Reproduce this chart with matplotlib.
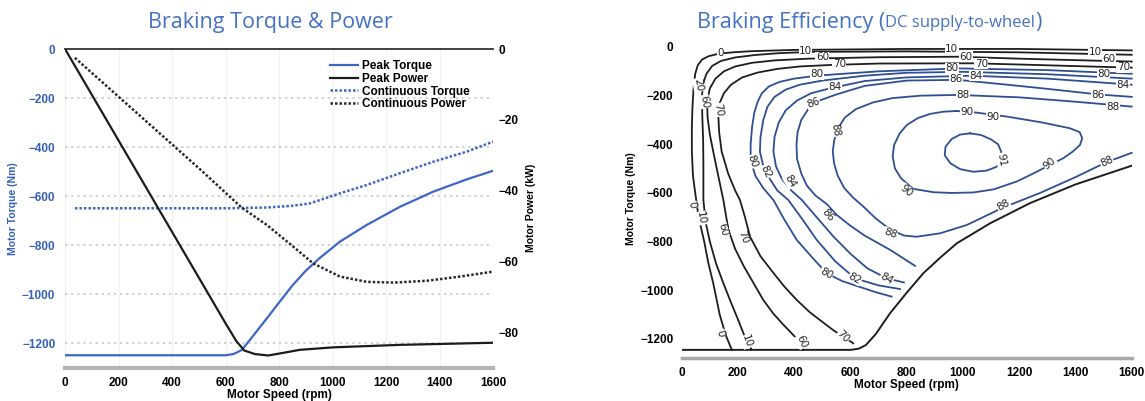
"""
Braking torque/power envelope and braking efficiency map for the motor.
"""

import matplotlib.pyplot as plt

plt.rcParams['font.family'] = ['Liberation Sans', 'DejaVu Sans']

# ---------------- left panel: torque & power envelopes ----------------
peak_torque_speed = [0, 600, 630, 660, 700, 754, 800, 850, 900, 950, 1028, 1128, 1252, 1377, 1502, 1600]
peak_torque = [-1250, -1250, -1245, -1229, -1175, -1100, -1035, -965, -905, -855, -786, -718, -644, -582, -532, -497]

peak_power_speed = [0, 600, 640, 670, 710, 760, 820, 878, 1003, 1252, 1600]
peak_power = [0, -77.5, -82.5, -85.2, -86.2, -86.6, -85.8, -85.0, -84.3, -83.6, -83.0]

cont_torque_speed = [37, 600, 754, 850, 916, 1028, 1128, 1252, 1377, 1502, 1600]
cont_torque = [-650, -650, -647, -640, -630, -589, -555, -507, -460, -419, -378]

cont_power_speed = [37, 505, 660, 754, 854, 928, 1028, 1128, 1228, 1352, 1477, 1600]
cont_power = [-2.5, -34.0, -44.8, -49.7, -55.9, -60.6, -64.3, -65.8, -66.0, -65.5, -64.3, -62.9]

torque_ticks = [0, -200, -400, -600, -800, -1000, -1200]
power_ticks = [0, -20, -40, -60, -80]
speed_ticks = [0, 200, 400, 600, 800, 1000, 1200, 1400, 1600]

# ---------------- right panel: efficiency contours (rpm, Nm) ----------------
limit_speed = [0, 600, 630, 655, 690, 741, 800, 859, 920, 978, 1096, 1238, 1400, 1600]
limit_torque = [-1245, -1245, -1240, -1225, -1180, -1094, -1010, -930, -865, -807, -725, -642, -565, -488]

eff0_speed = [1600, 1200, 800, 400, 250, 180, 130, 95, 72, 57, 48, 42, 38, 36, 36, 40, 48, 60, 80, 95, 112, 135, 155, 178]
eff0_torque = [-14, -8, -8, -12, -17, -22, -28, -38, -52, -75, -110, -170, -250, -330, -430, -530, -600, -700, -800, -890, -971, -1100, -1180, -1245]

eff10_speed = [1600, 1200, 800, 468, 350, 260, 190, 140, 108, 88, 76, 72, 73, 76, 77, 77, 85, 100, 122, 148, 175, 200, 231, 249]
eff10_torque = [-32, -22, -18, -20, -25, -33, -43, -57, -78, -110, -150, -200, -280, -380, -480, -629, -720, -800, -890, -971, -1050, -1120, -1211, -1245]

eff60_speed = [1600, 1200, 983, 700, 450, 330, 250, 190, 150, 120, 100, 90, 92, 100, 112, 130, 148, 166, 190, 220, 255, 290, 325, 360, 410, 432]
eff60_torque = [-60, -48, -40, -42, -48, -55, -65, -80, -100, -130, -170, -225, -290, -360, -430, -530, -629, -752, -830, -900, -970, -1040, -1095, -1140, -1200, -1245]

eff70_speed = [1600, 1200, 1037, 700, 527, 420, 340, 270, 215, 175, 150, 135, 130, 133, 142, 165, 190, 207, 225, 243, 280, 320, 365, 409, 455, 500, 540, 574, 610]
eff70_torque = [-85, -72, -67, -68, -74, -80, -90, -105, -125, -155, -190, -230, -280, -350, -430, -520, -590, -629, -700, -780, -860, -920, -985, -1040, -1090, -1130, -1165, -1191, -1218]

eff80_speed = [1600, 1300, 983, 700, 550, 480, 400, 349, 310, 285, 270, 258, 250, 245, 245, 250, 262, 290, 326, 365, 409, 460, 515, 570, 630, 690, 746]
eff80_torque = [-110, -95, -88, -100, -112, -118, -130, -143, -162, -190, -225, -270, -330, -400, -440, -485, -530, -580, -629, -710, -793, -860, -930, -962, -985, -1008, -1026]

eff82_speed = [1600, 1300, 1000, 800, 650, 500, 420, 370, 330, 305, 290, 280, 278, 290, 312, 340, 379, 430, 480, 545, 616, 700, 776]
eff82_torque = [-130, -112, -102, -106, -118, -138, -155, -175, -205, -245, -300, -370, -430, -490, -540, -590, -629, -710, -793, -880, -951, -980, -995]

eff84_speed = [1600, 1300, 1031, 800, 650, 527, 460, 410, 370, 345, 330, 326, 335, 355, 385, 427, 480, 540, 600, 660, 729, 790]
eff84_torque = [-155, -130, -118, -125, -140, -170, -190, -220, -260, -310, -370, -430, -490, -540, -585, -629, -700, -780, -850, -910, -951, -968]

eff86_speed = [1600, 1481, 1300, 1200, 983, 800, 650, 550, 490, 450, 425, 412, 408, 410, 425, 445, 475, 515, 551, 600, 650, 741, 830]
eff86_torque = [-205, -195, -172, -160, -135, -138, -160, -195, -220, -255, -300, -350, -400, -460, -520, -570, -610, -645, -690, -735, -775, -834, -900]

eff88_speed = [1600, 1400, 1200, 983, 850, 750, 680, 620, 580, 555, 542, 537, 542, 555, 578, 610, 645, 690, 741, 790, 835, 918, 1013, 1143, 1274, 1400, 1511, 1600]
eff88_torque = [-245, -225, -207, -197, -200, -210, -228, -255, -290, -335, -385, -430, -480, -530, -580, -620, -655, -705, -750, -775, -780, -766, -732, -660, -600, -535, -473, -435]

eff90_speed = [978, 1050, 1156, 1280, 1380, 1415, 1424, 1416, 1390, 1357, 1309, 1250, 1191, 1110, 1037, 960, 895, 823, 780, 758, 750, 755, 775, 800, 840, 883, 930, 978]
eff90_torque = [-263, -270, -286, -310, -334, -350, -375, -403, -430, -457, -485, -520, -553, -585, -598, -600, -597, -583, -540, -499, -450, -403, -355, -321, -292, -275, -266, -263]

eff91_speed = [1026, 1065, 1100, 1125, 1136, 1138, 1120, 1085, 1037, 990, 955, 935, 938, 960, 990, 1026]
eff91_torque = [-355, -362, -380, -400, -430, -464, -492, -508, -513, -502, -478, -445, -410, -378, -360, -355]

label_text = ["0", "10", "60", "70", "80", "84", "86", "88",
              "10", "60", "70", "80", "86", "84", "88", "90", "90",
              "10", "60", "70", "80", "84", "86", "88",
              "20", "60", "70", "0", "10", "60", "70",
              "80", "82", "84", "86", "88", "90", "91", "90", "88", "88",
              "0", "10", "60", "70", "80", "82", "84"]
label_speed = [137, 440, 500, 560, 480, 545, 468, 545,
               960, 1010, 1065, 960, 975, 1045, 1000, 1013, 1107,
               1470, 1520, 1570, 1500, 1568, 1481, 1533,
               59, 80, 130, 36, 68, 147, 218,
               250, 300, 385, 520, 741, 800, 1138, 1309, 1143, 1511,
               136, 231, 427, 574, 515, 616, 729]
label_torque = [-26, -15, -42, -70, -112, -165, -231, -341,
                -10, -40, -68, -88, -133, -118, -197, -268, -286,
                -22, -48, -84, -112, -158, -197, -245,
                -156, -225, -259, -650, -704, -752, -780,
                -471, -512, -553, -690, -766, -590, -464, -478, -649, -471,
                -1177, -1211, -1211, -1191, -930, -951, -951]
label_angle = [0, 0, 0, 0, 0, 0, 20, -80,
               0, 0, 0, 0, 0, 0, 0, 0, 0,
               0, 0, 0, 0, 0, 0, 0,
               -80, -80, -80, -80, -80, -75, -70,
               -70, -65, -60, -50, -20, -40, -80, 40, 30, 25,
               -75, -70, -65, -45, -30, -30, -30]

BLUE_TXT = '#4472c4'
BLUE_LINE = '#3d66c6'
CONTOUR_DARK = '#1e1e1e'
CONTOUR_BLUE = '#2e4f93'

fig = plt.figure(figsize=(11.45, 4.01), dpi=100)

# ---------------- left panel ----------------
ax = fig.add_axes([0.0568, 0.0835, 0.3738, 0.7943])
ax2 = ax.twinx()

h1, = ax.plot(peak_torque_speed, peak_torque, color=BLUE_LINE, lw=1.6, label='Peak Torque')
h3, = ax.plot(cont_torque_speed, cont_torque, color=BLUE_LINE, lw=1.8, ls=(0, (1, 0.8)),
              label='Continuous Torque')
h2, = ax2.plot(peak_power_speed, peak_power, color='#1c1c1c', lw=1.6, label='Peak Power')
h4, = ax2.plot(cont_power_speed, cont_power, color='#2a2a2a', lw=1.8, ls=(0, (1, 0.8)),
               label='Continuous Power')

ax.set_xlim(0, 1600)
ax.set_ylim(-1300, 0)
ax2.set_ylim(-90, 0)
ax.set_xticks(speed_ticks)
ax.set_yticks(torque_ticks)
ax2.set_yticks(power_ticks)

ax.yaxis.grid(True, ls=(0, (1.5, 2.5)), color='#c4c4c4', lw=1.1)
ax.xaxis.grid(True, ls='-', color='#f1f1f1', lw=0.8)
ax.set_axisbelow(True)

for a in (ax, ax2):
    for s in a.spines.values():
        s.set_visible(False)
ax.spines['top'].set_visible(True)
ax.spines['top'].set_color('#333333')
ax.spines['top'].set_linewidth(1.3)
ax.spines['bottom'].set_visible(True)
ax.spines['bottom'].set_color('#b3b3b3')
ax.spines['bottom'].set_linewidth(3)

ax.tick_params(axis='both', length=0, labelsize=8.5, pad=7)
ax.tick_params(axis='y', labelcolor='#3560b8')
ax2.tick_params(axis='y', length=0, labelsize=8.5, pad=4)
for lab in ax.get_xticklabels() + ax.get_yticklabels() + ax2.get_yticklabels():
    lab.set_fontweight('bold')

ax.set_xlabel('Motor Speed (rpm)', fontsize=8.5, fontweight='bold', labelpad=0)
ax.set_ylabel('Motor Torque (Nm)', fontsize=7.5, fontweight='bold', color='#3560b8', labelpad=3)
ax2.set_ylabel('Motor Power (kW)', fontsize=7.5, fontweight='bold', labelpad=5)

leg = ax2.legend(handles=[h1, h2, h3, h4], loc='upper left', bbox_to_anchor=(0.6, 0.99),
                 frameon=False, fontsize=8.5, handlelength=2.4, handletextpad=0.3,
                 labelspacing=0.05, borderpad=0.2)
for t in leg.get_texts():
    t.set_fontweight('bold')

fig.text(0.236, 0.945, 'Braking Torque & Power', ha='center', va='center',
         fontsize=15.5, color=BLUE_TXT, family='Open Sans')

# ---------------- right panel ----------------
rx = fig.add_axes([0.5954, 0.1063, 0.3930, 0.7947])

contours = [
    (0, eff0_speed, eff0_torque), (10, eff10_speed, eff10_torque),
    (60, eff60_speed, eff60_torque), (70, eff70_speed, eff70_torque),
    (80, eff80_speed, eff80_torque), (82, eff82_speed, eff82_torque),
    (84, eff84_speed, eff84_torque), (86, eff86_speed, eff86_torque),
    (88, eff88_speed, eff88_torque), (90, eff90_speed, eff90_torque),
    (91, eff91_speed, eff91_torque),
]
for level, sp, tq in contours:
    col = CONTOUR_BLUE if level >= 80 else CONTOUR_DARK
    rx.plot(sp, tq, color=col, lw=1.3, solid_joinstyle='round', clip_on=False)

rx.plot(limit_speed, limit_torque, color=CONTOUR_DARK, lw=1.4, solid_joinstyle='round')

for txt, sp, tq, ang in zip(label_text, label_speed, label_torque, label_angle):
    rx.text(sp, tq, txt, fontsize=7.5, color='#222222', family='DejaVu Sans',
            rotation=ang, ha='center', va='center', rotation_mode='anchor',
            bbox=dict(facecolor='white', edgecolor='none', pad=0.2), clip_on=False)

rx.set_xlim(0, 1600)
rx.set_ylim(-1280, 30)
rx.set_xticks(speed_ticks)
rx.set_yticks(torque_ticks)
for s in rx.spines.values():
    s.set_visible(False)
rx.spines['bottom'].set_visible(True)
rx.spines['bottom'].set_color('#a8a8a8')
rx.spines['bottom'].set_linewidth(2.5)
rx.tick_params(axis='both', length=0, labelsize=8.5, pad=6)
for lab in rx.get_xticklabels() + rx.get_yticklabels():
    lab.set_fontweight('bold')
rx.set_xlabel('Motor Speed (rpm)', fontsize=8.5, fontweight='bold', labelpad=0)
rx.set_ylabel('Motor Torque (Nm)', fontsize=7.5, fontweight='bold', labelpad=3)

# title with a smaller sub-part
renderer = fig.canvas.get_renderer()
t1 = fig.text(697 / 1145, 0.945, 'Braking Efficiency (', ha='left', va='center',
              fontsize=15.5, color=BLUE_TXT, family='Open Sans')
x1 = t1.get_window_extent(renderer).x1 / fig.bbox.width
t2 = fig.text(x1, 0.943, 'DC supply-to-wheel', ha='left', va='center',
              fontsize=12, color=BLUE_TXT, family='Open Sans')
x2 = t2.get_window_extent(renderer).x1 / fig.bbox.width
fig.text(x2, 0.945, ')', ha='left', va='center', fontsize=15.5, color=BLUE_TXT, family='Open Sans')

fig.savefig('out.png', dpi=100)
plt.close(fig)
